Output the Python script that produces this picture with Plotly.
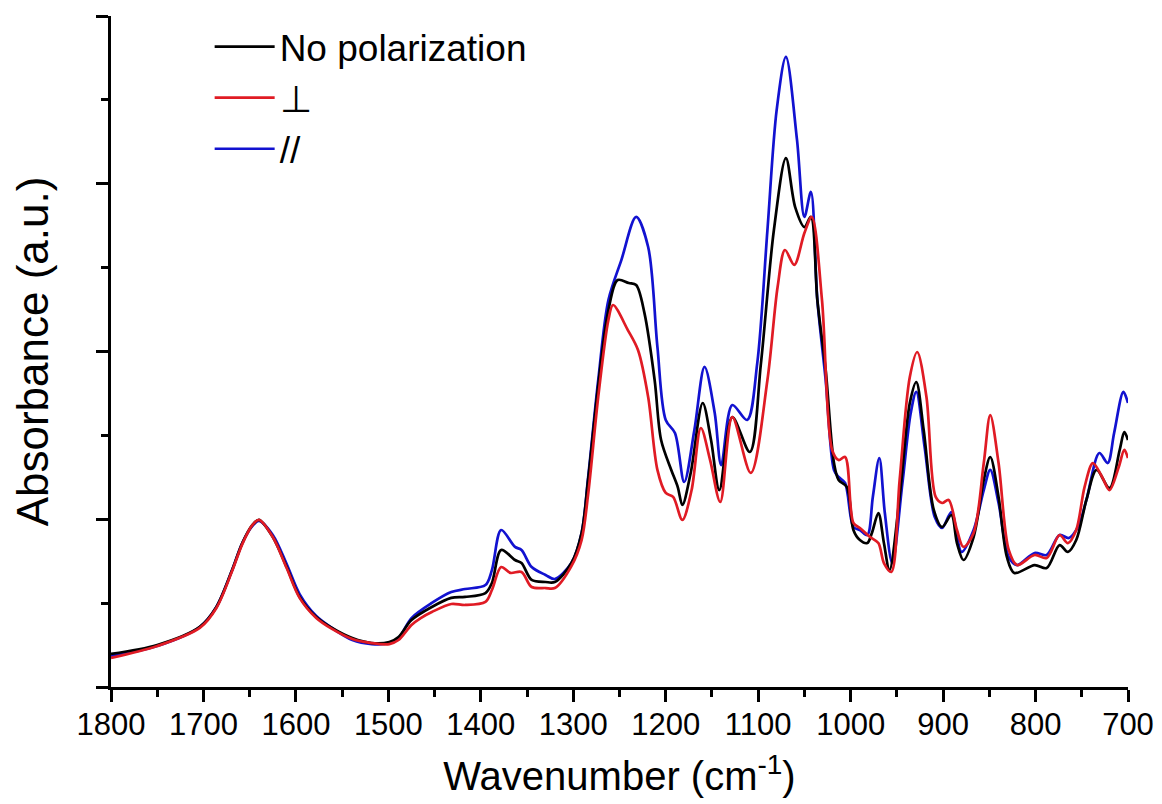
import plotly.graph_objects as go

# Wavenumber (cm-1) and absorbance (a.u.)
wn_black = [1800,1750,1704,1686,1669,1658,1647,1640,1625,1610,1596,1578,1561,1539,1518,1499,1489,1475,1453,1432,
            1417,1395,1388,1378,1363,1356,1345,1330,1320,1302,1291,1284,1273,1262,1252,1240,1232,1223,1212,1205,
            1194,1187,1182,1173,1160,1151,1142,1128,1109,1097,1083,1070,1060,1050,1043,1036,1027,1018,1013,1004,
            997,990,982,977,970,964,958,947,936,929,921,910,901,891,885,878,867,856,849,840,
            831,823,801,788,774,765,756,745,734,720,709,704,700]
abs_black = [0.197,0.250,0.358,0.477,0.697,0.858,0.966,0.996,0.894,0.715,0.537,0.417,0.352,0.292,0.262,0.268,0.298,0.399,0.477,0.531,
             0.537,0.560,0.620,0.817,0.757,0.739,0.638,0.626,0.626,0.739,0.918,1.234,1.800,2.247,2.426,2.408,2.396,2.229,1.830,1.472,
             1.294,1.192,1.085,1.276,1.693,1.472,1.174,1.609,1.401,1.931,2.724,3.153,2.861,2.742,2.802,2.307,1.890,1.335,1.234,1.192,
             0.936,0.876,0.858,0.918,1.037,0.858,0.697,1.133,1.693,1.818,1.532,1.055,0.954,1.025,0.858,0.757,0.894,1.234,1.371,1.133,
             0.775,0.680,0.727,0.709,0.846,0.805,0.876,1.115,1.294,1.186,1.413,1.520,1.472]

wn_red = [1800,1750,1704,1686,1669,1658,1647,1640,1625,1610,1596,1578,1561,1539,1518,1499,1489,1475,1465,1453,
          1432,1417,1395,1388,1378,1368,1356,1345,1330,1320,1302,1291,1284,1273,1262,1257,1241,1230,1219,1209,
          1200,1192,1182,1172,1162,1152,1141,1128,1108,1090,1079,1071,1061,1050,1042,1031,1020,1013,1006,997,
          990,979,970,964,956,947,936,928,918,908,901,894,885,878,867,856,849,840,829,820,
          801,788,774,765,756,747,738,728,720,710,704,700]
abs_red = [0.173,0.244,0.352,0.471,0.691,0.852,0.966,0.996,0.894,0.709,0.531,0.411,0.346,0.286,0.262,0.256,0.280,0.370,0.411,0.447,
           0.495,0.489,0.507,0.578,0.715,0.680,0.686,0.596,0.590,0.590,0.721,0.876,1.145,1.729,2.188,2.277,2.128,2.009,1.729,1.294,
           1.157,1.133,0.996,1.174,1.544,1.353,1.103,1.609,1.276,1.830,2.385,2.605,2.516,2.706,2.802,2.307,1.413,1.353,1.371,0.978,
           0.948,0.894,0.858,0.739,0.686,1.234,1.848,1.997,1.729,1.133,1.097,1.115,0.936,0.835,0.918,1.335,1.621,1.335,0.817,0.727,
           0.787,0.769,0.906,0.858,0.936,1.192,1.335,1.252,1.174,1.311,1.413,1.365]

wn_blue = [1800,1750,1704,1686,1669,1658,1647,1640,1625,1610,1596,1578,1561,1539,1518,1499,1489,1475,1453,1432,
           1417,1395,1388,1378,1363,1356,1345,1330,1320,1302,1291,1284,1273,1262,1248,1232,1219,1209,1200,1190,
           1180,1169,1158,1147,1140,1128,1112,1101,1090,1080,1070,1058,1050,1043,1036,1027,1018,1013,1006,997,
           990,982,976,969,963,955,944,935,929,920,909,901,891,880,867,856,849,840,829,820,
           801,788,774,764,754,745,731,722,715,705,700]
abs_blue = [0.185,0.244,0.358,0.477,0.697,0.858,0.960,0.990,0.906,0.733,0.554,0.423,0.352,0.280,0.256,0.262,0.292,0.411,0.501,0.566,
            0.584,0.608,0.697,0.936,0.835,0.817,0.715,0.668,0.644,0.739,0.918,1.246,1.830,2.307,2.545,2.802,2.623,2.027,1.592,1.514,
            1.222,1.532,1.908,1.633,1.323,1.681,1.592,1.931,2.724,3.440,3.756,3.261,2.802,2.951,2.307,1.830,1.294,1.252,1.216,0.954,
            0.936,0.906,1.133,1.365,1.037,0.739,1.216,1.633,1.759,1.431,1.013,0.948,1.043,0.805,0.936,1.174,1.294,1.097,0.775,0.727,
            0.799,0.787,0.906,0.888,0.954,1.115,1.395,1.335,1.514,1.759,1.693]

x_ticks = [1800, 1700, 1600, 1500, 1400, 1300, 1200, 1100, 1000, 900, 800, 700]

FONT = "Liberation Sans, Arial, sans-serif"

fig = go.Figure()
fig.add_trace(go.Scatter(x=wn_blue, y=abs_blue, mode="lines", name="//", legendrank=3,
                         line=dict(color="#1212d0", width=2.7, shape="spline", smoothing=0.9)))
fig.add_trace(go.Scatter(x=wn_black, y=abs_black, mode="lines", name="No polarization", legendrank=1,
                         line=dict(color="#000000", width=2.7, shape="spline", smoothing=0.9)))
fig.add_trace(go.Scatter(x=wn_red, y=abs_red, mode="lines", name="\u22a5", legendrank=2,
                         line=dict(color="#e01b24", width=2.7, shape="spline", smoothing=0.9)))

fig.update_layout(
    width=1154, height=796,
    margin=dict(l=103, r=26, t=8, b=117),
    paper_bgcolor="white", plot_bgcolor="white",
    font=dict(family=FONT, color="black"),
    showlegend=True,
    legend=dict(x=0.097, y=1.0, xanchor="left", yanchor="top", bgcolor="rgba(0,0,0,0)",
                font=dict(size=37, family=FONT), tracegroupgap=0, itemwidth=60),
    xaxis=dict(range=[1800, 700], tickmode="array", tickvals=x_ticks, ticktext=[str(v) for v in x_ticks],
               showgrid=False, zeroline=False, showline=True, linecolor="black", linewidth=2.5,
               ticks="outside", ticklen=12, tickwidth=2.5, tickcolor="black",
               tickfont=dict(size=31, family=FONT), ticklabelstandoff=-4,
               minor=dict(dtick=50, ticks="outside", ticklen=7, tickwidth=2.5, tickcolor="black", showgrid=False),
               title=dict(text="Wavenumber (cm<sup>-1</sup>)", font=dict(size=40, family=FONT), standoff=22)),
    yaxis=dict(range=[0, 4], dtick=1, tick0=0, showticklabels=False,
               showgrid=False, zeroline=False, showline=True, linecolor="black", linewidth=2.5,
               ticks="outside", ticklen=12, tickwidth=2.5, tickcolor="black",
               minor=dict(dtick=0.5, ticks="outside", ticklen=7, tickwidth=2.5, tickcolor="black", showgrid=False),
               title=dict(text="Absorbance (a.u.)", font=dict(size=44, family=FONT), standoff=48)),
)

fig.write_html("out.html")
